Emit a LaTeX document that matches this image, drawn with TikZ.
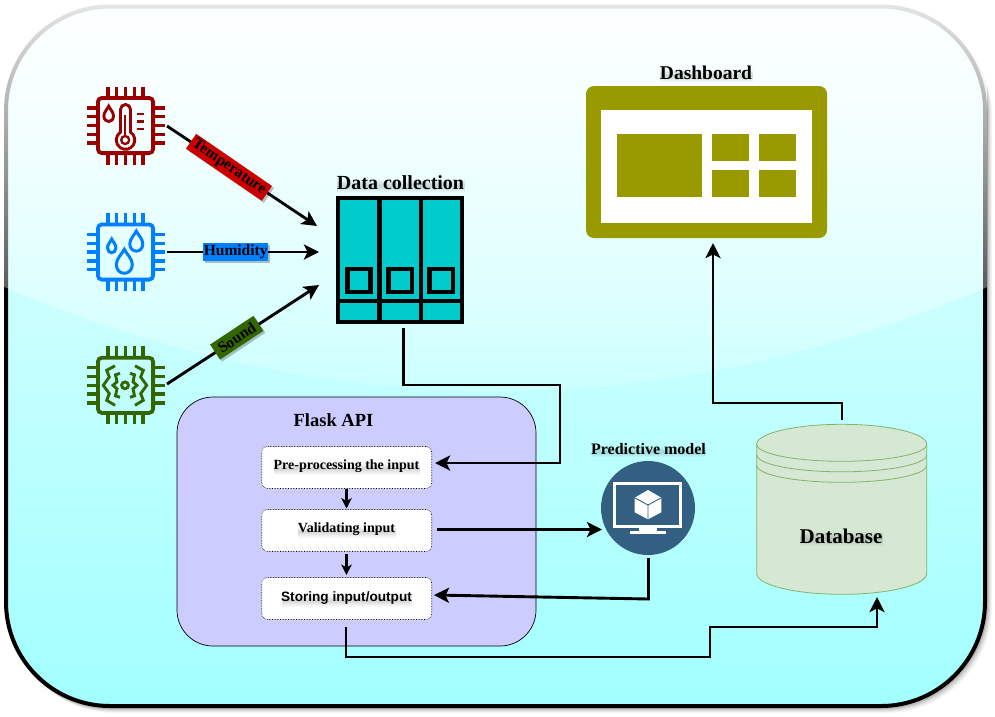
\documentclass[tikz,border=0pt]{standalone}
\usepackage{fontspec}
\setmainfont{Liberation Serif}
\newfontfamily\lsans{Liberation Sans}
\usetikzlibrary{arrows.meta,shadows,fadings}
\definecolor{bgtop}{HTML}{E8FFFF}
\definecolor{bgbot}{HTML}{A2FFFF}
\definecolor{tempc}{HTML}{990000}
\definecolor{tempb}{HTML}{CC0000}
\definecolor{humc}{HTML}{007FFF}
\definecolor{sndc}{HTML}{336600}
\definecolor{teal}{HTML}{00CCCC}
\definecolor{flask}{HTML}{CCCCFF}
\definecolor{olivec}{HTML}{999900}
\definecolor{dbfill}{HTML}{D5E8D4}
\definecolor{dbline}{HTML}{82B366}
\definecolor{modelc}{HTML}{335F83}
\tikzfading[name=glassfade,top color=transparent!10,bottom color=transparent!90]
\tikzfading[name=softband,top color=transparent!100,bottom color=transparent!100,middle color=transparent!0]
\tikzset{
  x=1pt,y=-1pt,
  link/.style={line width=2.9pt,draw=black,-{Stealth[length=15pt,width=15pt,inset=3.5pt]}},
  smalllink/.style={line width=2.2pt,draw=black,-{Stealth[length=10.5pt,width=10.5pt,inset=3pt]}},
  tag/.style={inner sep=0pt,font=\bfseries\fontsize{15.5}{17}\selectfont,text=black,minimum height=18pt,general shadow={shadow xshift=2pt,shadow yshift=-2pt,fill=black,opacity=0.25}},
  stepbox/.style={draw=black,densely dotted,line width=0.6pt,fill=white,rounded corners=6pt,minimum width=170pt,minimum height=42pt,inner sep=0pt},
  softlabel/.style={inner sep=0pt,general shadow={shadow xshift=0.5pt,shadow yshift=-2.5pt,fill=black,opacity=0.16,path fading=softband}},
  heading/.style={inner sep=0pt,font=\bfseries\fontsize{#1}{22}\selectfont},
  steptext/.style={font=\bfseries\fontsize{14}{16}\selectfont},
  pics/chip/.style={code={
    \draw[#1,line width=3.8pt,rounded corners=4pt] (-27.6,-27.6) rectangle (27.6,27.6);
    \foreach \k in {-17.6,-8.8,0,8.8,17.6}{
      \draw[#1,line width=3.4pt] (\k,-39) -- (\k,-29);
      \draw[#1,line width=3.4pt] (\k,29) -- (\k,39);
      \draw[#1,line width=3.4pt] (-39,\k) -- (-29,\k);
      \draw[#1,line width=3.4pt] (29,\k) -- (39,\k);
    }}},
  pics/drop/.style={code={
    \draw[#1] (0,-1.3) .. controls (0.25,-0.85) and (1,-0.35) .. (1,0.25)
      .. controls (1,0.8) and (0.55,1.15) .. (0,1.15)
      .. controls (-0.55,1.15) and (-1,0.8) .. (-1,0.25)
      .. controls (-1,-0.35) and (-0.25,-0.85) .. cycle;}},
}
\begin{document}
\begin{tikzpicture}
\useasboundingbox (0,0) rectangle (995,716);
% panel: shadow, gradient body, black outline, glass overlay
\foreach \o/\a in {5/0.04,4/0.05,3/0.06,2/0.08,1/0.10}{
  \fill[black,opacity=\a,rounded corners=106pt] (4+\o,4.5+\o) rectangle (987+\o,708+\o);
}
\shade[top color=bgtop,bottom color=bgbot,draw=black,line width=4pt,rounded corners=104pt] (6,6.5) rectangle (985,706);
\begin{scope}
  \clip (2,2) -- (990,2) -- (990,286) .. controls (663,426) and (330,426) .. (2,286) -- cycle;
  \fill[white,path fading=glassfade] (2,2) rectangle (990,426);
\end{scope}
% sensors
\pic at (125.5,125.5) {chip=tempc};
\pic at (125.5,252) {chip=humc};
\pic at (125.5,385.3) {chip=sndc};
\coordinate (tempport) at (167,126);
\coordinate (humport) at (167,252);
\coordinate (sndport) at (167,384);
% thermometer
\begin{scope}[shift={(125.5,125.5)}]
  \pic at (-16.8,-11.2) {drop={tempc,line width=2.9pt,x=4.8pt,y=-6.3pt}};
  \draw[tempc,line width=2.9pt] (-5,-16) arc[start angle=180,end angle=360,radius=5] -- (5,6.7)
     arc[start angle=-57.3,end angle=237.3,radius=9.3] -- cycle;
  \draw[tempc,line width=2.3pt] (-0.3,9.5) -- (-0.3,-10.5);
  \draw[tempc,line width=2.3pt] (-0.3,14.5) circle[radius=4];
  \foreach \t in {-11.5,-4,3.5}{\draw[tempc,line width=2.9pt] (11,\t) -- (18.5,\t);}
\end{scope}
% droplets
\pic at (111.7,246.3) {drop={humc,line width=3pt,x=4.2pt,y=-5.6pt}};
\pic at (136.3,241.7) {drop={humc,line width=3pt,x=6.5pt,y=-8.2pt}};
\pic at (124.3,262) {drop={humc,line width=3pt,x=8pt,y=-9.8pt}};
% sound
\begin{scope}[shift={(125,385.3)},sndc,line width=2.9pt]
  \draw (0,0) circle[radius=3.4];
  \foreach \s in {1,-1}{
    \draw (\s*5,-12) -- (\s*9.5,-10.5) -- (\s*8,-3.5) -- (\s*12,0) -- (\s*8,3.5) -- (\s*9.5,10.5) -- (\s*5,12);
    \draw (\s*10,-19.5) -- (\s*18.3,-15) -- (\s*15.7,-8.3) -- (\s*21.7,0) -- (\s*15.7,8.3) -- (\s*18.3,15) -- (\s*10,20);
  }
\end{scope}
% data collection
\node[heading=20,softlabel] (datatitle) at (400.5,183) {Data collection};
\node[draw=black,fill=teal,line width=4.4pt,minimum width=123.6pt,minimum height=123.6pt,inner sep=0pt] (data) at (400,260) {};
\begin{scope}[line width=4.4pt]
  \draw (379.3,196) -- (379.3,324);
  \draw (420.7,196) -- (420.7,324);
  \draw (336,300.7) -- (464,300.7);
  \draw (347.5,268.8) rectangle (370.5,292.2);
  \draw (388.3,268.8) rectangle (411.7,292.2);
  \draw (429.5,268.8) rectangle (452.8,292.2);
\end{scope}
\coordinate (humin) at (319,252);
\coordinate (tempin) at (317,226);
\coordinate (sndin) at (319,285);
\draw[link] (tempport) -- (tempin);
\draw[link] (humport) -- (humin);
\draw[link] (sndport) -- (sndin);
\node[tag,fill=tempb,minimum width=92pt,rotate=-34.5] (temptag) at (229,167.3) {Temperature};
\node[tag,fill=humc,minimum width=64.7pt] (humtag) at (235.7,251.7) {Humidity};
\node[tag,fill=sndc,minimum width=52pt,rotate=33.5] (sndtag) at (236.7,337.7) {Sound};
% flask
\node[draw=black,fill=flask,line width=0.7pt,rounded corners=36pt,minimum width=359pt,minimum height=249pt,inner sep=0pt] (flaskbox) at (356.5,521.5) {};
\node[heading=18.5] (flasktitle) at (333.5,420) {Flask API};
\node[stepbox] (pre) at (346.7,467.5) {};
\node[stepbox] (val) at (346.7,530.5) {};
\node[stepbox] (sto) at (346.7,598.5) {};
\node[steptext,softlabel] (pretext) at (346.5,466) {Pre-processing the input};
\node[steptext,softlabel] (valtext) at (346.5,529) {Validating input};
\node[softlabel,font=\lsans\bfseries\fontsize{13.6}{16}\selectfont] (stotext) at (346.5,598) {Storing input/output};
\coordinate (prelow) at (346.5,489);
\coordinate (valtop) at (346.5,508.5);
\coordinate (vallow) at (346.5,554);
\coordinate (stotop) at (346.5,575);
\draw[smalllink] (prelow) -- (valtop);
\draw[smalllink] (vallow) -- (stotop);
% model
\node[circle,fill=modelc,minimum size=94pt,inner sep=0pt] (model) at (648,508) {};
\node[softlabel,font=\bfseries\fontsize{16}{18}\selectfont] (modeltitle) at (648.5,449) {Predictive model};
\draw[white,line width=3pt] (614.8,483.2) rectangle (680.8,526.8);
\fill[white] (639.3,528) rectangle (656.7,532);
\fill[white] (630,531) rectangle (665.7,534);
\fill[white] (648,490) -- (661.3,497.7) -- (661.3,512.3) -- (648,519.3) -- (634.7,512.3) -- (634.7,497.7) -- cycle;
\draw[modelc,line width=0.9pt] (634.7,497.7) -- (648,505) -- (661.3,497.7) (648,505) -- (648,519.3);
% database
\draw[dbline,fill=dbfill,line width=0.8pt] (756.7,444.3) .. controls (756.7,433.3) and (794.7,424.3) .. (841.7,424.3)
  .. controls (888.7,424.3) and (926.7,433.3) .. (926.7,444.3) -- (926.7,573.3)
  .. controls (926.7,585) and (888.7,594.3) .. (841.7,594.3)
  .. controls (794.7,594.3) and (756.7,585) .. (756.7,573.3) -- cycle;
\foreach \d in {444.3,454.8,465.3}{
  \draw[dbline,line width=0.8pt] (756.7,\d) .. controls (756.7,\d+9.4) and (794.7,\d+17) .. (841.7,\d+17)
    .. controls (888.7,\d+17) and (926.7,\d+9.4) .. (926.7,\d);
}
\node[softlabel,font=\bfseries\fontsize{21}{23}\selectfont] (dbtitle) at (841,536) {Database};
% dashboard
\node[heading=19.5,softlabel] (dashtitle) at (706,73) {Dashboard};
\fill[olivec,rounded corners=8pt] (586,86) rectangle (827,238);
\fill[white] (601,110) rectangle (812,223);
\fill[olivec] (617,134) rectangle (702,197);
\fill[olivec] (712,134) rectangle (749,161);
\fill[olivec] (759,134) rectangle (796,161);
\fill[olivec] (712,170) rectangle (749,197);
\fill[olivec] (759,170) rectangle (796,197);
\coordinate (dashin) at (713,243);
\coordinate (dbtop) at (842,420);
\coordinate (dbin) at (877,597);
\coordinate (dataout) at (403.5,328);
\coordinate (prein) at (435,463);
\coordinate (valout) at (437,529.5);
\coordinate (modelin) at (602,529.5);
\coordinate (modelout) at (648.5,558);
\coordinate (stoin) at (434,595);
\coordinate (stoout) at (346,627);
% connectors
\draw[link] (dataout) -- (403.5,385) -- (560,385) -- (560,463) -- (prein);
\draw[link] (valout) -- (modelin);
\draw[link] (modelout) -- (648.5,599) -- (stoin);
\draw[link] (stoout) -- (346,657) -- (710,657) -- (710,627) -- (877,627) -- (dbin);
\draw[link] (dbtop) -- (842,403) -- (713,403) -- (dashin);
\end{tikzpicture}
\end{document}
